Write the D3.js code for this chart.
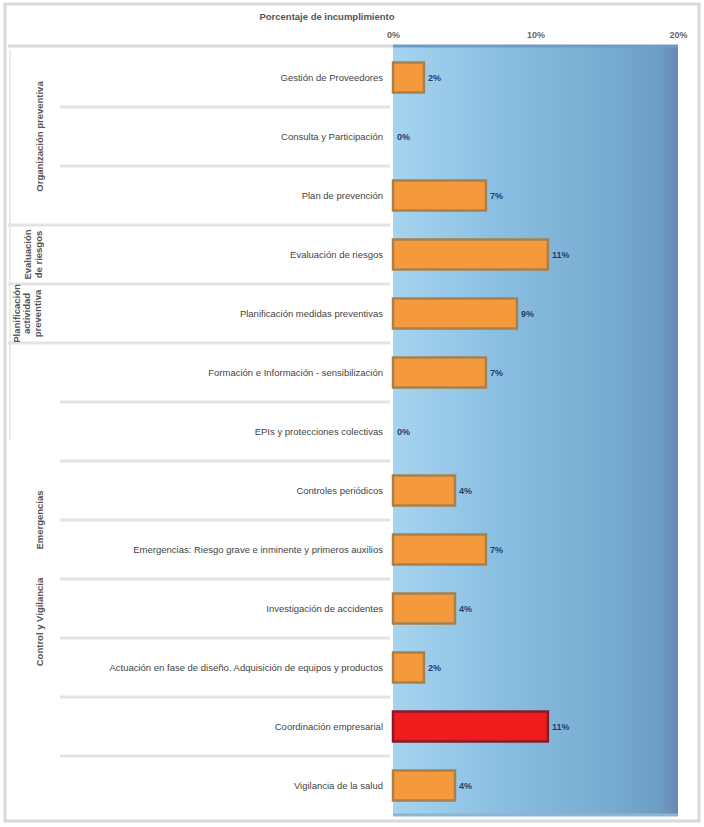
<!DOCTYPE html>
<html>
<head>
<meta charset="utf-8">
<script src="https://cdn.jsdelivr.net/npm/d3@7"></script>
<style>
  body { margin: 0; background: #fff; }
  svg { display: block; font-family: "Liberation Sans", Arial, sans-serif; }
</style>
</head>
<body>
<svg id="chart" width="704" height="827"></svg>
<script>
// Apartados evaluados
const categories = [
  "Gestión de Proveedores",
  "Consulta y Participación",
  "Plan de prevención",
  "Evaluación de riesgos",
  "Planificación medidas preventivas",
  "Formación e Información - sensibilización",
  "EPIs y protecciones colectivas",
  "Controles periódicos",
  "Emergencias: Riesgo grave e inminente y primeros auxilios",
  "Investigación de accidentes",
  "Actuación en fase de diseño. Adquisición de equipos y productos",
  "Coordinación empresarial",
  "Vigilancia de la salud"
];
// Porcentaje de incumplimiento por apartado
const values = [0.0217, 0, 0.0652, 0.1087, 0.0870, 0.0652, 0, 0.0435, 0.0652, 0.0435, 0.0217, 0.1087, 0.0435];
// Apartado destacado
const highlight = ["Coordinación empresarial"];
const tickValues = [0, 0.10, 0.20];
const axisTitle = "Porcentaje de incumplimiento";
// Agrupaciones (primer y último apartado de cada grupo)
const groups = [
  { lines: ["Organización preventiva"], from: 0, to: 2, cx: 40 },
  { lines: ["Evaluación", "de riesgos"], from: 3, to: 3, cx: 33 },
  { lines: ["Planificación", "actividad", "preventiva"], from: 4, to: 4, cx: 27 },
  { lines: ["Emergencias"], from: 7, to: 8, cx: 40 },
  { lines: ["Control y Vigilancia"], from: 9, to: 10, cx: 40, shift: -16 }
];

const svg = d3.select("#chart");
const W = 704, H = 827;
const plot = { left: 393, right: 678, top: 48, bottom: 815 };

const x = d3.scaleLinear().domain([0, 0.20]).range([plot.left, plot.right]);
const y = d3.scaleBand().domain(categories).range([plot.top, plot.bottom]).paddingInner(0).paddingOuter(0);

// marco exterior
svg.append("rect").attr("x", 5).attr("y", 4).attr("width", W - 10).attr("height", H - 10)
  .attr("fill", "#fff").attr("stroke", "#d9d9d9").attr("stroke-width", 3);

// fondo degradado del área de trazado
const defs = svg.append("defs");
const grad = defs.append("linearGradient").attr("id", "bg").attr("x1", 0).attr("x2", 1).attr("y1", 0).attr("y2", 0);
[[0, "#a6d4f0"], [0.35, "#8cc0e2"], [0.75, "#77acd0"], [0.93, "#6d9ec4"], [1, "#6888b6"]]
  .forEach(([o, c]) => grad.append("stop").attr("offset", o).attr("stop-color", c));
svg.append("rect").attr("x", plot.left).attr("y", plot.top - 2)
  .attr("width", plot.right - plot.left).attr("height", plot.bottom - plot.top + 2)
  .attr("fill", "url(#bg)");
svg.append("line").attr("x1", plot.left).attr("x2", plot.right)
  .attr("y1", plot.top - 2).attr("y2", plot.top - 2).attr("stroke", "#6f9cc4").attr("stroke-width", 3);
svg.append("line").attr("x1", plot.left).attr("x2", plot.right)
  .attr("y1", plot.bottom).attr("y2", plot.bottom).attr("stroke", "#8fb4d0").attr("stroke-width", 3);

// cabecera
svg.append("line").attr("x1", 8).attr("x2", plot.left).attr("y1", 46).attr("y2", 46)
  .attr("stroke", "#d8d8d8").attr("stroke-width", 3);
svg.append("text").attr("x", 327).attr("y", 20).attr("text-anchor", "middle")
  .attr("font-size", 9.5).attr("font-weight", "bold").attr("fill", "#555").text(axisTitle);

// eje superior
const axis = d3.axisTop(x).tickValues(tickValues).tickFormat(d3.format(".0%")).tickSize(0);
const gAxis = svg.append("g").attr("transform", `translate(0,38)`).call(axis);
gAxis.select(".domain").remove();
gAxis.selectAll("text").attr("font-size", 9).attr("font-weight", "bold").attr("fill", "#666").attr("dy", "0.3em");

// separadores de filas
const sepRows = categories.slice(1);
svg.append("g").selectAll("line").data(sepRows).join("line")
  .attr("x1", 60).attr("x2", plot.left - 3)
  .attr("y1", d => y(d)).attr("y2", d => y(d))
  .attr("stroke", "#e3e3e3").attr("stroke-width", 3);

// separadores de grupos
svg.append("line").attr("x1", 10).attr("x2", 10).attr("y1", 50).attr("y2", 440)
  .attr("stroke", "#ececec").attr("stroke-width", 2);
[3, 4, 5].forEach(i => {
  svg.append("line").attr("x1", 8).attr("x2", 60).attr("y1", y(categories[i])).attr("y2", y(categories[i]))
    .attr("stroke", "#e3e3e3").attr("stroke-width", 3);
});

// etiquetas de categoría
svg.append("g").selectAll("text").data(categories).join("text")
  .attr("x", plot.left - 10)
  .attr("y", d => y(d) + y.bandwidth() / 2)
  .attr("dy", "0.35em").attr("text-anchor", "end")
  .attr("font-size", 9.5).attr("fill", "#444")
  .text(d => d);

// etiquetas de grupo (verticales)
groups.forEach(g => {
  const cy = (y(categories[g.from]) + y(categories[g.to]) + y.bandwidth()) / 2 + (g.shift || 0);
  const n = g.lines.length;
  const t = svg.append("text").attr("transform", `translate(${g.cx},${cy}) rotate(-90)`)
    .attr("text-anchor", "middle").attr("font-size", 9.5).attr("font-weight", "bold").attr("fill", "#555");
  g.lines.forEach((l, i) => {
    t.append("tspan").attr("x", 0).attr("dy", i === 0 ? `${-(n - 1) * 0.55 + 0.35}em` : "1.1em").text(l);
  });
});

// barras
const barH = 30;
svg.append("g").selectAll("rect").data(categories).join("rect")
  .attr("x", x(0))
  .attr("y", d => y(d) + (y.bandwidth() - barH) / 2)
  .attr("width", (d, i) => x(values[i]) - x(0))
  .attr("height", barH)
  .attr("fill", d => highlight.includes(d) ? "#ee1c1c" : "#f59a3c")
  .attr("stroke", d => highlight.includes(d) ? "#8a1a2a" : "#a8804a")
  .attr("stroke-width", 2.5);

// valores
svg.append("g").selectAll("text").data(categories).join("text")
  .attr("x", (d, i) => x(values[i]) + 4)
  .attr("y", d => y(d) + y.bandwidth() / 2)
  .attr("dy", "0.35em")
  .attr("font-size", 9).attr("font-weight", "bold").attr("fill", "#1f3f6e")
  .text((d, i) => d3.format(".0%")(values[i]));
</script>
</body>
</html>
